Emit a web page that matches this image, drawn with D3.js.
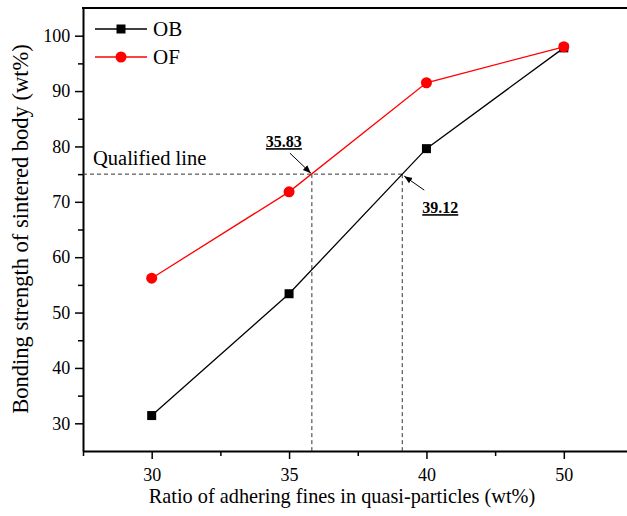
<!DOCTYPE html>
<html>
<head>
<meta charset="utf-8">
<script src="https://cdn.jsdelivr.net/npm/d3@7"></script>
<style>
  body { margin: 0; background: #fff; }
  svg { font-family: "Liberation Serif", "Times New Roman", serif; }
</style>
</head>
<body>
<div id="chart"></div>
<script>
const ratios = [30, 35, 40, 50];
const obValues = [31.4, 53.4, 79.6, 97.8];
const ofValues = [56.2, 71.8, 91.5, 98.0];
const yTicks = [30, 40, 50, 60, 70, 80, 90, 100];
const qualified = 75;
const crossings = [35.83, 39.12];

const w = 627, h = 516;
const padLeft = 83, padBottom = 451, padTop = 8, padRight = 632.5;

const svg = d3.select("#chart").append("svg")
    .attr("width", w)
    .attr("height", h);

// the x axis is spaced by category, so values go value -> index -> pixels
const toIndex = d3.scaleLinear().domain(ratios).range(ratios.map((d, i) => i));
const xIdx = d3.scaleLinear().domain([-0.5, ratios.length - 0.5]).range([padLeft, padRight]);
const x = v => xIdx(toIndex(v));

const y = d3.scaleLinear().domain([25, 105]).range([padBottom, padTop]);

// axes
const xAxis = svg.append("g")
    .attr("transform", "translate(0," + padBottom + ")")
    .call(d3.axisBottom(xIdx)
        .tickValues(ratios.map((d, i) => i))
        .tickFormat(i => ratios[i])
        .tickSize(8)
        .tickSizeOuter(0));
svg.append("g")
    .attr("transform", "translate(0," + padBottom + ")")
    .call(d3.axisBottom(xIdx)
        .tickValues([-0.5, 0.5, 1.5, 2.5, 3.5])
        .tickFormat("")
        .tickSize(5)
        .tickSizeOuter(0))
    .select(".domain").remove();

const yAxis = svg.append("g")
    .attr("transform", "translate(" + padLeft + ",0)")
    .call(d3.axisLeft(y)
        .tickValues(yTicks)
        .tickSize(8)
        .tickSizeOuter(0));
svg.append("g")
    .attr("transform", "translate(" + padLeft + ",0)")
    .call(d3.axisLeft(y)
        .tickValues([35, 45, 55, 65, 75, 85, 95])
        .tickFormat("")
        .tickSize(5)
        .tickSizeOuter(0))
    .select(".domain").remove();

svg.selectAll(".domain").attr("stroke-width", 2);
svg.selectAll(".tick line").attr("stroke-width", 1.5);
svg.selectAll(".tick text")
    .attr("font-family", "Liberation Serif")
    .attr("font-size", 18)
    .attr("fill", "#000");
xAxis.selectAll(".tick text").attr("dy", "1.05em");
yAxis.selectAll(".tick text").attr("dx", "-0.1em");

// top frame line
svg.append("line")
    .attr("x1", padLeft - 1).attr("x2", w)
    .attr("y1", padTop).attr("y2", padTop)
    .attr("stroke", "#000").attr("stroke-width", 2);

// qualified line and crossings
const dash = "4,3";
svg.append("line")
    .attr("x1", padLeft).attr("x2", x(crossings[1]))
    .attr("y1", y(qualified)).attr("y2", y(qualified))
    .attr("stroke", "#333").attr("stroke-dasharray", dash);
svg.selectAll(".vdash")
    .data(crossings)
    .enter()
    .append("line")
    .attr("x1", d => x(d)).attr("x2", d => x(d))
    .attr("y1", y(qualified)).attr("y2", padBottom)
    .attr("stroke", "#333").attr("stroke-dasharray", dash);

svg.append("text")
    .attr("x", padLeft + 10)
    .attr("y", y(qualified) - 9)
    .attr("font-size", 20.5)
    .text("Qualified line");

// series
const line = d3.line().x((d, i) => x(ratios[i])).y(d => y(d));

svg.append("path")
    .datum(obValues)
    .attr("d", line)
    .attr("fill", "none")
    .attr("stroke", "#000")
    .attr("stroke-width", 1.3);
svg.append("path")
    .datum(ofValues)
    .attr("d", line)
    .attr("fill", "none")
    .attr("stroke", "#ff0000")
    .attr("stroke-width", 1.3);

svg.selectAll(".ob")
    .data(obValues)
    .enter()
    .append("rect")
    .attr("x", (d, i) => x(ratios[i]) - 4.5)
    .attr("y", d => y(d) - 4.5)
    .attr("width", 9)
    .attr("height", 9)
    .attr("fill", "#000");
svg.selectAll(".of")
    .data(ofValues)
    .enter()
    .append("circle")
    .attr("cx", (d, i) => x(ratios[i]))
    .attr("cy", d => y(d))
    .attr("r", 5.5)
    .attr("fill", "#ff0000");

// annotation arrows
svg.append("defs").append("marker")
    .attr("id", "arrow")
    .attr("viewBox", "0 0 10 10")
    .attr("refX", 10).attr("refY", 5)
    .attr("markerWidth", 8).attr("markerHeight", 8)
    .attr("markerUnits", "userSpaceOnUse")
    .attr("orient", "auto")
    .append("path")
    .attr("d", "M0,1 L10,5 L0,9 Z")
    .attr("fill", "#000");

const notes = [
    {v: crossings[0], dx: -22, dy: -21, tx: -46, ty: -27},
    {v: crossings[1], dx: 22, dy: 16, tx: 20, ty: 39}
];
notes.forEach(n => {
    const cx = x(n.v), cy = y(qualified);
    svg.append("line")
        .attr("x1", cx + n.dx).attr("y1", cy + n.dy)
        .attr("x2", cx + (n.dx < 0 ? -1 : 2)).attr("y2", cy + (n.dy < 0 ? -1 : 2))
        .attr("stroke", "#000").attr("stroke-width", 1)
        .attr("marker-end", "url(#arrow)");
    svg.append("text")
        .attr("x", cx + n.tx)
        .attr("y", cy + n.ty)
        .attr("font-size", 16)
        .attr("font-weight", "bold")
        .attr("text-decoration", "underline")
        .text(n.v.toFixed(2));
});

// legend
const legend = [
    {name: "OB", color: "#000", shape: "square"},
    {name: "OF", color: "#ff0000", shape: "circle"}
];
legend.forEach((d, i) => {
    const ly = 29 + i * 28;
    svg.append("line")
        .attr("x1", 95).attr("x2", 147)
        .attr("y1", ly).attr("y2", ly)
        .attr("stroke", d.color).attr("stroke-width", 1.3);
    if (d.shape === "square") {
        svg.append("rect")
            .attr("x", 121 - 4.5).attr("y", ly - 4.5)
            .attr("width", 9).attr("height", 9)
            .attr("fill", d.color);
    } else {
        svg.append("circle")
            .attr("cx", 121).attr("cy", ly).attr("r", 5.5)
            .attr("fill", d.color);
    }
    svg.append("text")
        .attr("x", 153).attr("y", ly + 7)
        .attr("font-size", 21)
        .text(d.name);
});

// axis titles
svg.append("text")
    .attr("x", 342).attr("y", 503)
    .attr("text-anchor", "middle")
    .attr("font-size", 20.3)
    .text("Ratio of adhering fines in quasi-particles (wt%)");
svg.append("text")
    .attr("transform", "translate(28,229) rotate(-90)")
    .attr("text-anchor", "middle")
    .attr("font-size", 22.5)
    .text("Bonding strength of sintered body (wt%)");
</script>
</body>
</html>
